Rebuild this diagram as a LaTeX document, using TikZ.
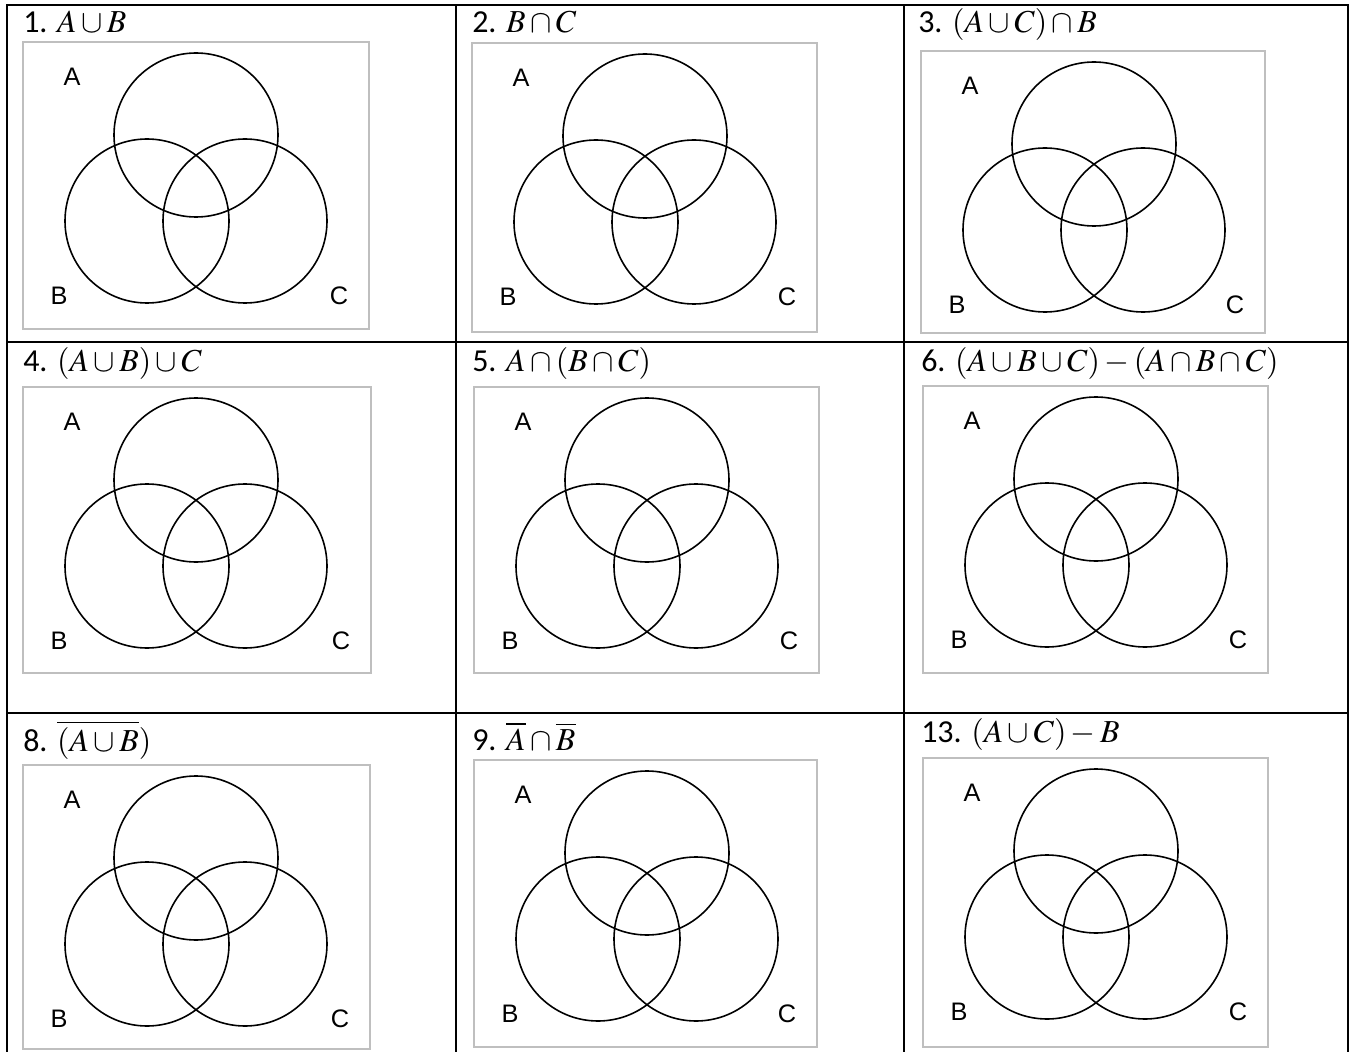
\documentclass[tikz,border=0pt]{standalone}
\usepackage{mathptmx}
\usepackage{fontspec}
\setmainfont{Carlito}
\newfontfamily\labelfont{Liberation Sans}

\begin{document}
\begin{tikzpicture}[x=0.75pt, y=-0.75pt,
  tablerule/.style={line width=1.8pt, line cap=rect},
  vennframe/.style={draw=gray!50, line width=1.9pt},
  ring/.style={line width=1.2pt},
  setlabel/.style={font=\labelfont\fontsize{19}{22}\selectfont, inner sep=0pt},
  heading/.style={anchor=base west, inner sep=0pt, font=\fontsize{24}{28}\selectfont}]
  \useasboundingbox (0,0) rectangle (1354,1052);

  % Tabelle
  \draw[tablerule] (7,1052) -- (7,5) -- (1348,5) -- (1348,1052);
  \draw[tablerule] (456,5) -- (456,1052);
  \draw[tablerule] (904,5) -- (904,1052);
  \draw[tablerule] (7,342) -- (1348,342);
  \draw[tablerule] (7,713) -- (1348,713);

  % Venn-Diagramme
  \foreach \n/\bx/\by/\bw/\bh in {1/23/42/346/287, 2/472/43/345/289, 3/921/51/344/282,
      4/23/387/348/286, 5/474/387/345/286, 6/923/386/345/287,
      8/23/765/347/284, 9/474/760/343/287, 13/923/758/345/289} {
    \begin{scope}[shift={(\bx,\by)}]
      \draw[vennframe] (0,0) rectangle (\bw,\bh);
      \draw[ring] (173,93) circle[radius=82];
      \draw[ring] (124,179) circle[radius=82];
      \draw[ring] (222,179) circle[radius=82];
      \node[setlabel] (la\n) at (49,35) {A};
      \node[setlabel] (lb\n) at (36,254) {B};
      \node[setlabel] (lc\n) at (\bw-30,254) {C};
    \end{scope}
  }

  % Aufgaben
  \node[heading] (t1) at (23,33) {1. $A\cup B$};
  \node[heading] (t2) at (472,33) {2. $B\cap C$};
  \node[heading] (t3) at (918,33) {3. $(A\cup C)\cap B$};
  \node[heading] (t4) at (23,371) {4. $(A\cup B)\cup C$};
  \node[heading] (t5) at (472,371) {5. $A\cap(B\cap C)$};
  \node[heading] (t6) at (921,371) {6. $(A\cup B\cup C)-(A\cap B\cap C)$};
  \node[heading] (t8) at (23,751) {8. $\overline{(A\cup B})$};
  \node[heading] (t9) at (472,750) {9. $\overline{A}\cap\overline{B}$};
  \node[heading] (t13) at (921,742) {13. $(A\cup C)-B$};
\end{tikzpicture}
\end{document}
